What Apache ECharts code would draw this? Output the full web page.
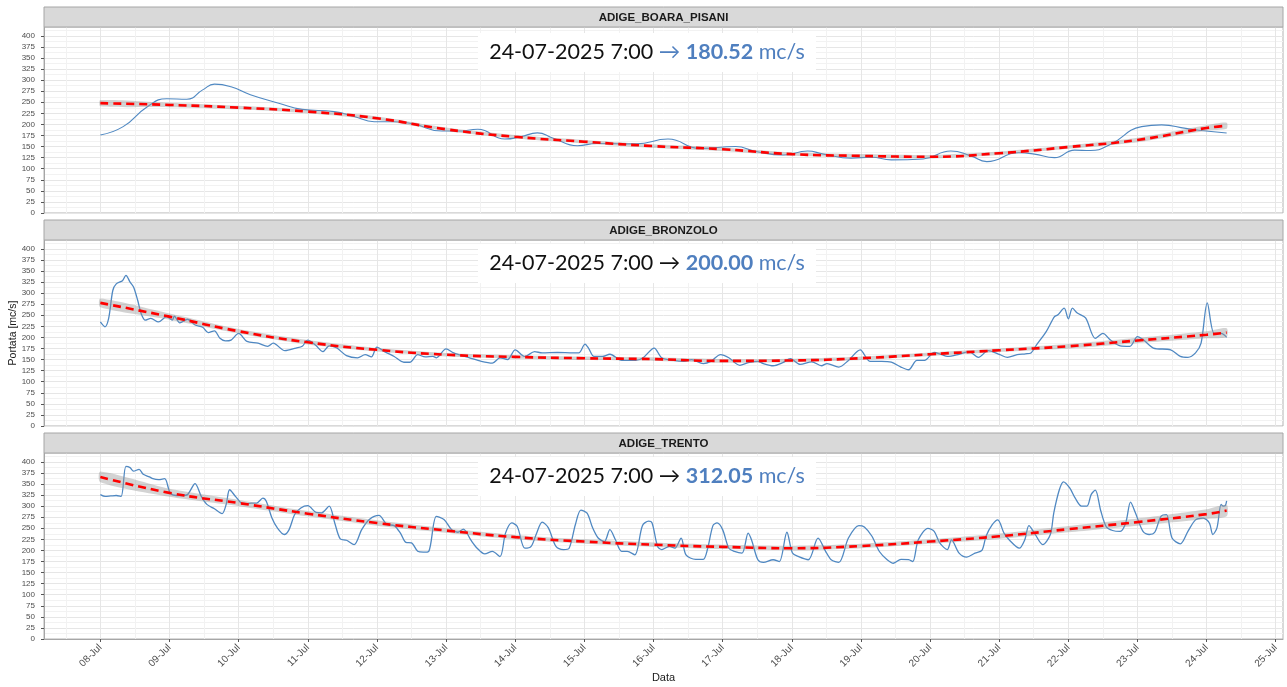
<!DOCTYPE html>
<html>
<head>
<meta charset="utf-8">
<script src="https://cdn.jsdelivr.net/npm/echarts@6/dist/echarts.min.js"></script>
<style>
  html, body { margin: 0; padding: 0; background: #ffffff; }
  #chart { width: 1287px; height: 687px; }
</style>
</head>
<body>
<div id="chart"></div>
<script>
// ---- data --------------------------------------------------------------
// x values are days counted from 08-Jul 00:00
const stations = ['ADIGE_BOARA_PISANI', 'ADIGE_BRONZOLO', 'ADIGE_TRENTO'];
const lastStamp = '24-07-2025 7:00';
const dayLabels = ['08-Jul','09-Jul','10-Jul','11-Jul','12-Jul','13-Jul','14-Jul','15-Jul','16-Jul',
                   '17-Jul','18-Jul','19-Jul','20-Jul','21-Jul','22-Jul','23-Jul','24-Jul','25-Jul'];
const yTickValues = [0,25,50,75,100,125,150,175,200,225,250,275,300,325,350,375,400];

// observed discharge, ADIGE_BOARA_PISANI
const pisaniDays = [0,0.33,0.68,0.96,1.25,1.48,1.65,1.89,2.17,2.58,2.92,3.38,3.67,3.96,4.25,4.53,4.94,5.17,5.46,
  5.85,6.08,6.32,6.55,6.9,7.18,7.75,8.21,8.67,9.19,9.48,9.88,10.23,10.46,10.86,11.15,11.44,11.9,12.3,12.59,
  12.82,13.28,13.51,13.8,14.09,14.32,14.6,15.06,15.35,15.7,15.99,16.29];
const pisaniFlow = [176,195,240,258,257,278,291,285,267,248,234,229,218,206,206,201,185,185,189,
  167,172,181,169,152,157,156,167,146,150,139,131,140,133,124,126,120,122,140,129,
  116,136,133,125,142,141,154,195,199,191,185,180.52];

// observed discharge, ADIGE_BRONZOLO
const bronzoloDays = [0,0.067,0.12,0.18,0.23,0.32,0.37,0.43,0.48,0.54,0.59,0.65,0.73,0.84,0.96,1.04,1.07,1.15,1.26,
  1.37,1.48,1.56,1.65,1.73,1.81,1.89,2.0,2.12,2.28,2.42,2.5,2.67,2.83,2.92,3.0,3.11,3.22,3.31,3.42,3.56,3.72,
  3.83,3.92,4.0,4.11,4.25,4.39,4.48,4.59,4.7,4.81,4.86,5.0,5.11,5.34,5.51,5.67,5.78,5.89,6.0,6.14,6.28,6.39,
  6.61,6.84,6.92,7.01,7.06,7.14,7.26,7.37,7.54,7.74,7.85,8.01,8.12,8.29,8.44,8.55,8.72,8.83,8.97,9.09,9.25,
  9.37,9.51,9.59,9.73,9.87,9.98,10.12,10.29,10.43,10.51,10.68,10.82,10.99,11.13,11.3,11.44,11.58,11.69,11.81,
  11.92,12.06,12.17,12.25,12.42,12.56,12.7,12.84,13.01,13.12,13.26,13.38,13.46,13.54,13.68,13.8,13.85,13.94,
  14.0,14.06,14.13,14.25,14.39,14.5,14.61,14.75,14.89,15.0,15.09,15.23,15.48,15.62,15.73,15.84,15.92,16.01,
  16.11,16.21,16.29];
const bronzoloFlow = [235,224,243,306,321,328,340,325,314,284,254,239,243,235,247,239,248,233,241,
  228,223,211,215,198,192,194,209,191,187,180,187,170,176,180,194,183,168,181,176,159,154,
  161,156,178,168,157,144,144,161,156,157,154,174,165,154,146,142,154,150,172,157,168,165,
  166,165,165,185,176,157,157,162,148,148,154,176,154,148,146,150,141,146,161,154,137,
  143,146,141,136,143,152,139,145,136,141,133,148,172,146,146,144,133,127,148,
  148,166,161,157,162,168,155,170,161,155,161,163,165,183,213,247,251,266,
  242,266,255,244,198,209,194,181,180,202,194,176,172,157,155,165,187,278,
  209,209,200.00];

// observed discharge, ADIGE_TRENTO
const trentoDays = [0,0.07,0.15,0.23,0.3,0.37,0.43,0.48,0.56,0.62,0.71,0.76,0.84,0.93,1.01,1.1,1.18,1.26,1.37,
  1.46,1.54,1.65,1.76,1.82,1.87,1.96,2.07,2.18,2.26,2.35,2.4,2.48,2.56,2.66,2.73,2.81,2.9,3.0,3.12,3.2,3.31,
  3.39,3.47,3.56,3.67,3.78,3.89,4.03,4.14,4.25,4.34,4.42,4.5,4.59,4.67,4.75,4.86,4.97,5.08,5.17,5.25,5.36,
  5.45,5.56,5.67,5.78,5.86,5.95,6.03,6.14,6.23,6.31,6.39,6.48,6.59,6.7,6.78,6.87,6.95,7.04,7.12,7.2,7.29,
  7.37,7.45,7.54,7.62,7.73,7.84,7.93,7.98,8.06,8.12,8.23,8.31,8.4,8.47,8.61,8.72,8.78,8.86,8.92,9.0,9.09,
  9.17,9.28,9.37,9.42,9.51,9.59,9.73,9.82,9.93,10.01,10.1,10.24,10.38,10.49,10.57,10.68,10.82,10.97,11.05,
  11.16,11.27,11.38,11.47,11.58,11.69,11.75,11.83,11.97,12.06,12.14,12.25,12.31,12.42,12.53,12.65,12.75,
  12.81,12.9,12.98,13.07,13.15,13.29,13.37,13.43,13.51,13.63,13.74,13.79,13.87,13.93,14.02,14.1,14.19,
  14.27,14.33,14.39,14.47,14.55,14.64,14.75,14.83,14.9,14.97,15.08,15.17,15.25,15.34,15.42,15.5,15.62,
  15.73,15.84,15.95,16.04,16.09,16.15,16.21,16.24,16.27,16.29];
const trentoFlow = [326,322,323,324,322,390,387,379,383,372,366,362,360,362,330,324,324,326,351,
  322,304,294,283,304,337,321,304,307,307,318,311,274,251,236,247,281,296,301,286,285,300,
  262,226,223,213,247,270,279,259,256,239,218,217,198,196,198,277,270,247,241,248,223,
  205,192,198,186,239,262,254,205,209,239,264,251,209,202,205,258,291,284,251,228,220,
  247,224,198,198,190,256,266,262,209,202,209,205,228,190,180,180,202,256,262,247,205,
  198,194,239,223,179,173,179,175,241,194,186,179,228,198,179,173,228,256,253,
  232,197,179,171,180,179,175,224,250,243,217,202,224,194,185,194,200,
  232,258,269,239,223,205,224,256,239,213,236,285,337,355,341,318,300,
  300,326,336,289,253,245,243,262,309,285,243,236,241,277,281,228,215,
  243,269,273,262,236,251,304,300,301,312.05];

// loess trend and its confidence half-width, sampled once a day
const trendDays = [0,1,2,3,4,5,6,7,8,9,10,11,12,13,14,15,16,16.29];
const pisaniTrend   = [248,244,238,229,214,189,172,161,151,144,133,129,127,135,149,165,192,197];
const pisaniSe      = [7,5,4,4,4,4,4,4,4,4,4,4,4,4,4,5,6,7];
const bronzoloTrend = [278,247,214,189,172,161,156,153,151,147,148,153,162,171,180,193,206,211];
const bronzoloSe    = [10,7,5,5,4,4,4,4,4,4,4,4,4,4,5,6,8,10];
const trentoTrend   = [366,330,307,283,262,245,230,220,213,208,205,210,220,232,248,264,282,290];
const trentoSe      = [12,9,7,6,6,5,5,5,5,5,5,5,5,6,7,8,11,13];

// ---- layout ------------------------------------------------------------
const panels = [
  { name: stations[0], days: pisaniDays,   flow: pisaniFlow,   trend: pisaniTrend,   se: pisaniSe,   top: 27,  arrowBlue: true },
  { name: stations[1], days: bronzoloDays, flow: bronzoloFlow, trend: bronzoloTrend, se: bronzoloSe, top: 240, arrowBlue: false },
  { name: stations[2], days: trentoDays,   flow: trentoFlow,   trend: trentoTrend,   se: trentoSe,   top: 453, arrowBlue: false }
];
const plotLeft = 44, plotWidth = 1239, plotHeight = 186, stripHeight = 20;
const xMin = -0.815, xMax = 17.105;
const dayTicks = dayLabels.map((_, i) => i);
const halfTicks = dayLabels.slice(0, -1).map((_, i) => i + 0.5).concat([-0.5]);

const axisFont = 'Liberation Sans, Arial, sans-serif';
const textGrey = '#4d4d4d';
const gridMajor = '#e6e6e6';
const gridMinor = '#f2f2f2';
const blue = '#4f88c2';
const noteBlue = '#4f7fbf';
const noteFont = 'Lato, sans-serif';

const grids = [], xAxes = [], yAxes = [], series = [], graphics = [];

panels.forEach((p, i) => {
  const last = i === panels.length - 1;
  grids.push({ left: plotLeft, top: p.top, width: plotWidth, height: plotHeight,
               containLabel: false, outerBoundsMode: 'none',
               show: true, borderColor: '#b3b3b3', borderWidth: 1, backgroundColor: '#ffffff' });

  // day axis (major grid, ticks and labels)
  xAxes.push({
    gridIndex: i, type: 'value', min: xMin, max: xMax, position: 'bottom',
    axisLine: { show: last, onZero: false, lineStyle: { color: '#a6a6a6' } },
    axisTick: { show: last, customValues: dayTicks, length: 3, lineStyle: { color: '#555' } },
    axisLabel: { show: last, customValues: dayTicks, rotate: 45, margin: 7,
                 fontSize: 10, color: textGrey, fontFamily: axisFont,
                 formatter: v => dayLabels[Math.round(v)] },
    splitLine: { show: true, lineStyle: { color: gridMajor, width: 1 } },
    name: last ? 'Data' : '', nameLocation: 'middle', nameGap: 33, nameMoveOverlap: false,
    nameTextStyle: { fontSize: 11, color: '#1a1a1a', fontFamily: axisFont }
  });
  // half-day axis (minor grid only)
  xAxes.push({
    gridIndex: i, type: 'value', min: xMin, max: xMax, position: 'bottom',
    axisLine: { show: false, onZero: false }, axisLabel: { show: false },
    axisTick: { show: false, customValues: halfTicks },
    splitLine: { show: true, lineStyle: { color: gridMinor, width: 1 } }
  });

  yAxes.push({
    gridIndex: i, type: 'value', min: 0, max: 420, interval: 25, position: 'left',
    axisLine: { show: true, onZero: false, lineStyle: { color: '#a6a6a6' } },
    axisTick: { show: true, customValues: yTickValues, length: 3, lineStyle: { color: '#555' } },
    axisLabel: { customValues: yTickValues, fontSize: 8, color: textGrey, fontFamily: axisFont, margin: 9 },
    splitLine: { show: true, lineStyle: { color: gridMajor, width: 1 } },
    minorTick: { show: false, splitNumber: 2 },
    minorSplitLine: { show: true, lineStyle: { color: gridMinor, width: 1 } },
    name: i === 1 ? 'Portata [mc/s]' : '', nameLocation: 'middle', nameGap: 25, nameMoveOverlap: false,
    nameTextStyle: { fontSize: 10.5, color: '#1a1a1a', fontFamily: axisFont }
  });

  const xi = i * 2;
  // observed series
  series.push({
    type: 'line', xAxisIndex: xi, yAxisIndex: i, symbol: 'none', smooth: i === 0 ? true : 0.3,
    data: p.days.map((d, k) => [d, p.flow[k]]),
    lineStyle: { color: blue, width: i === 0 ? 1.1 : 1.3 }, z: 2, silent: true
  });
  // confidence band around the trend
  series.push({
    type: 'custom', xAxisIndex: xi, yAxisIndex: i, silent: true, z: 3,
    data: [[trendDays[0], p.trend[0]]],
    renderItem: (params, api) => {
      const upper = trendDays.map((d, k) => api.coord([d, p.trend[k] + p.se[k]]));
      const lower = trendDays.map((d, k) => api.coord([d, p.trend[k] - p.se[k]])).reverse();
      return {
        type: 'polygon',
        shape: { points: upper.concat(lower), smooth: 0.25 },
        style: { fill: 'rgba(150,150,150,0.42)' }
      };
    }
  });
  // trend line
  series.push({
    type: 'line', xAxisIndex: xi, yAxisIndex: i, symbol: 'none', smooth: true,
    data: trendDays.map((d, k) => [d, p.trend[k]]),
    lineStyle: { color: '#ff0000', width: 2.6, type: [8, 5] }, z: 4, silent: true
  });

  // facet strip
  const stripTop = p.top - stripHeight;
  graphics.push({
    type: 'rect', shape: { x: plotLeft, y: stripTop, width: plotWidth, height: stripHeight },
    style: { fill: '#d9d9d9', stroke: '#a6a6a6', lineWidth: 1 }, z: 10
  });
  graphics.push({
    type: 'text', x: plotLeft + plotWidth / 2, y: stripTop + stripHeight / 2 + 0.5,
    style: { text: p.name, fill: '#1a1a1a', font: 'bold 11.5px ' + axisFont,
             textAlign: 'center', textVerticalAlign: 'middle' }, z: 11
  });

  // latest reading box
  const lastValue = p.flow[p.flow.length - 1];
  const boxTop = i === 0 ? p.top + 6 : p.top + 4;
  graphics.push({
    type: 'rect', shape: { x: 478, y: boxTop, width: 338, height: 39 },
    style: { fill: '#ffffff' }, z: 12
  });
  graphics.push({
    type: 'text', x: 647, y: boxTop + 19.5,
    style: {
      text: '{t|' + lastStamp + ' }{a|→ }{v|' + lastValue.toFixed(2) + '}{u| mc/s}',
      textAlign: 'center', textVerticalAlign: 'middle',
      rich: {
        t: { fontFamily: noteFont, fontSize: 21.5, fill: '#111111' },
        a: { fontFamily: noteFont, fontSize: 21.5, fill: p.arrowBlue ? noteBlue : '#111111' },
        v: { fontFamily: noteFont, fontSize: 21.5, fontWeight: 'bold', fill: noteBlue },
        u: { fontFamily: noteFont, fontSize: 21.5, fill: noteBlue }
      }
    }, z: 13
  });
});

const chart = echarts.init(document.getElementById('chart'), null, { renderer: 'canvas' });
chart.setOption({
  animation: false,
  backgroundColor: '#ffffff',
  grid: grids,
  xAxis: xAxes,
  yAxis: yAxes,
  series: series,
  graphic: graphics
});
</script>
</body>
</html>
